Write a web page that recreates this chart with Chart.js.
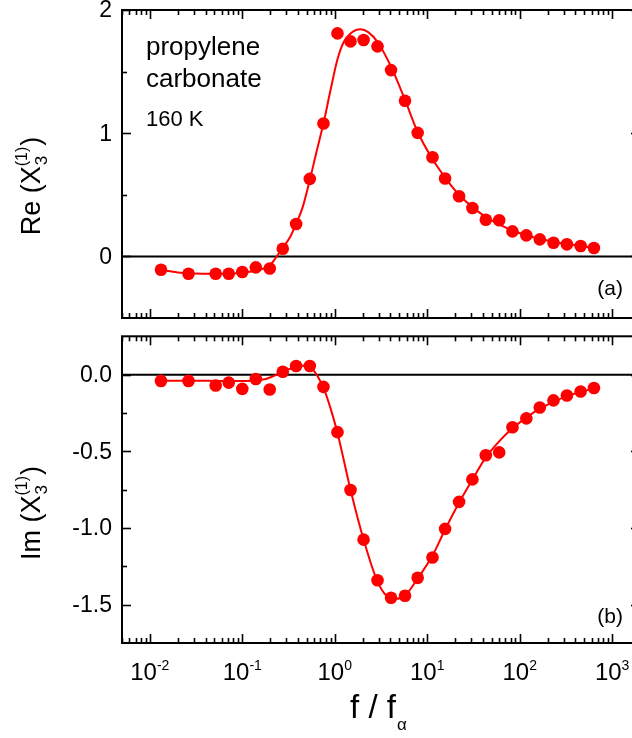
<!DOCTYPE html>
<html>
<head>
<meta charset="utf-8">
<script src="https://cdn.jsdelivr.net/npm/chart.js@4"></script>
<style>
html, body { margin: 0; padding: 0; background: #fff; overflow: hidden; }
#wrap { position: relative; width: 632px; height: 738px; overflow: hidden; }
canvas { position: absolute; left: 0; }
#topChart { top: 0; width: 650px; height: 330px; }
#bottomChart { top: 330px; width: 650px; height: 408px; }
</style>
</head>
<body>
<div id="wrap">
  <canvas id="topChart" width="650" height="330"></canvas>
  <canvas id="bottomChart" width="650" height="408"></canvas>
</div>
<script>
// measured points (f / f_alpha)
const freq = [0.0132, 0.0262, 0.0515, 0.0713, 0.100, 0.140, 0.198, 0.274, 0.382, 0.537, 0.755,
              1.07, 1.48, 2.05, 2.90, 4.06, 5.75, 7.88, 11.4, 15.6, 22.1, 30.8, 43.0, 60.0,
              83.5, 118, 165, 232, 324, 456, 635];
const reData = [-0.108, -0.141, -0.141, -0.141, -0.127, -0.089, -0.098, 0.062, 0.263, 0.629, 1.079,
                1.810, 1.745, 1.756, 1.705, 1.512, 1.263, 1.003, 0.805, 0.632, 0.488, 0.393, 0.298, 0.293,
                0.203, 0.171, 0.138, 0.111, 0.098, 0.084, 0.068];
const imData = [-0.041, -0.041, -0.071, -0.052, -0.093, -0.028, -0.097, 0.019, 0.056, 0.056, -0.080,
                -0.375, -0.752, -1.076, -1.341, -1.455, -1.442, -1.325, -1.192, -1.006, -0.830, -0.683, -0.526, -0.507,
                -0.343, -0.285, -0.214, -0.168, -0.136, -0.110, -0.087];

// fit curves
const reFitFreq = [0.0132, 0.02, 0.03, 0.05, 0.08, 0.12, 0.16, 0.2, 0.236, 0.274, 0.33, 0.38, 0.45, 0.537,
                   0.64, 0.755, 0.9, 1.07, 1.25, 1.48, 1.9, 2.3, 2.9, 4.06, 5.75, 7.88, 11.4, 15.6, 22.1,
                   30.8, 43, 60, 83.5, 118, 165, 232, 324, 456, 635];
const reFit = [-0.11, -0.13, -0.138, -0.14, -0.138, -0.125, -0.105, -0.07, 0.0, 0.07, 0.16, 0.26, 0.40, 0.62,
               0.86, 1.08, 1.35, 1.60, 1.74, 1.81, 1.843, 1.82, 1.74, 1.54, 1.27, 1.01, 0.79, 0.64, 0.50,
               0.40, 0.32, 0.26, 0.21, 0.172, 0.143, 0.119, 0.10, 0.085, 0.07];
const imFitFreq = [0.0132, 0.03, 0.06, 0.1, 0.14, 0.18, 0.22, 0.274, 0.33, 0.382, 0.46, 0.537, 0.62, 0.68,
                   0.755, 0.9, 1.07, 1.48, 2.05, 2.9, 3.6, 4.6, 5.75, 7.88, 11.4, 15.6, 22.1, 30.8, 43, 60,
                   83.5, 118, 165, 232, 324, 456, 635];
const imFit = [-0.04, -0.04, -0.041, -0.041, -0.038, -0.028, -0.008, 0.018, 0.038, 0.05, 0.058, 0.05, 0.01, -0.03,
               -0.085, -0.22, -0.38, -0.75, -1.075, -1.35, -1.44, -1.462, -1.44, -1.33, -1.18, -1.01, -0.835, -0.685, -0.54, -0.435,
               -0.35, -0.28, -0.222, -0.178, -0.14, -0.113, -0.09];

// axis ticks
const xDecades = [-2, -1, 0, 1, 2, 3];
const reMajor = [0, 1, 2];
const reMinor = [0.5, 1.5];
const reLabels = ['0', '1', '2'];
const imMajor = [0, -0.5, -1.0, -1.5];
const imMinor = [-0.25, -0.75, -1.25];
const imLabels = ['0.0', '-0.5', '-1.0', '-1.5'];

const FONT = '"Liberation Sans", Arial, Helvetica, sans-serif';
const RED = '#ff0000';

function pts(xs, ys) {
    return xs.map((x, i) => ({ x: x, y: ys[i] }));
}

function seg(ctx, x1, y1, x2, y2) {
    ctx.beginPath();
    ctx.moveTo(x1, y1);
    ctx.lineTo(x2, y2);
    ctx.stroke();
}

// "Re (X_3^(1))" along the current baseline
function drawSymbol(ctx, prefix, x0) {
    ctx.font = '27px ' + FONT;
    ctx.fillText(prefix + ' (X', x0, 0);
    let x = x0 + ctx.measureText(prefix + ' (X').width;
    ctx.font = '17px ' + FONT;
    ctx.fillText('3', x + 1, 7);
    ctx.font = '16px ' + FONT;
    ctx.fillText('(1)', x, -13);
    const w = Math.max(ctx.measureText('(1)').width, 10);
    ctx.font = '27px ' + FONT;
    ctx.fillText(')', x + w + 1, 0);
}

function symbolWidth(ctx, prefix) {
    ctx.font = '27px ' + FONT;
    let w = ctx.measureText(prefix + ' (X').width + ctx.measureText(')').width + 1;
    ctx.font = '16px ' + FONT;
    w += ctx.measureText('(1)').width;
    return w;
}

// frame, inward ticks on all four sides, zero line and texts
const framePlugin = {
    id: 'frame',
    beforeDatasetsDraw(chart) {
        const ctx = chart.ctx, a = chart.chartArea, ys = chart.scales.y;
        ctx.save();
        ctx.strokeStyle = '#000';
        ctx.lineWidth = 2;
        const y0 = ys.getPixelForValue(0);
        seg(ctx, a.left, y0, a.right, y0);
        ctx.restore();
    },
    afterDraw(chart, args, o) {
        const ctx = chart.ctx, a = chart.chartArea;
        const xs = chart.scales.x, ys = chart.scales.y;
        ctx.save();
        ctx.strokeStyle = '#000';
        ctx.lineWidth = 2;
        ctx.strokeRect(a.left, a.top, a.right - a.left, a.bottom - a.top);
        ctx.lineWidth = 1.6;
        for (let e = -3; e <= 3; e++) {
            for (let k = 1; k <= 9; k++) {
                const v = k * Math.pow(10, e);
                if (v < xs.min || v > xs.max) continue;
                const px = Math.round(xs.getPixelForValue(v)) + 0.5;
                const len = k === 1 ? 9 : 5;
                seg(ctx, px, a.bottom, px, a.bottom - len);
                seg(ctx, px, a.top, px, a.top + len);
            }
        }
        o.major.forEach(v => {
            const py = Math.round(ys.getPixelForValue(v)) + 0.5;
            seg(ctx, a.left, py, a.left + 9, py);
            seg(ctx, a.right, py, a.right - 9, py);
        });
        o.minor.forEach(v => {
            const py = Math.round(ys.getPixelForValue(v)) + 0.5;
            seg(ctx, a.left, py, a.left + 5, py);
            seg(ctx, a.right, py, a.right - 5, py);
        });

        ctx.fillStyle = '#000';
        ctx.font = '23px ' + FONT;
        ctx.textAlign = 'right';
        ctx.textBaseline = 'middle';
        o.major.forEach((v, i) => {
            ctx.fillText(o.labels[i], a.left - 10, ys.getPixelForValue(v) + 1);
        });

        // y title, rotated
        ctx.textAlign = 'left';
        ctx.textBaseline = 'alphabetic';
        ctx.save();
        const w = symbolWidth(ctx, o.title);
        ctx.translate(40, o.titleY + w / 2);
        ctx.rotate(-Math.PI / 2);
        drawSymbol(ctx, o.title, 0);
        ctx.restore();

        // panel letter
        ctx.font = '21px ' + FONT;
        ctx.textAlign = 'right';
        ctx.fillText(o.letter, 623, o.letterY);

        if (o.notes) {
            ctx.textAlign = 'left';
            ctx.font = '26px ' + FONT;
            ctx.fillText('propylene', 146, 55);
            ctx.fillText('carbonate', 146, 87);
            ctx.font = '22px ' + FONT;
            ctx.fillText('160 K', 146, 126);
        }

        if (o.xLabels) {
            const base = a.bottom + 37;
            xDecades.forEach(e => {
                const px = xs.getPixelForValue(Math.pow(10, e));
                ctx.font = '24px ' + FONT;
                const w1 = ctx.measureText('10').width;
                ctx.font = '14px ' + FONT;
                const w2 = ctx.measureText(String(e)).width;
                const x0 = px - (w1 + w2) / 2;
                ctx.textAlign = 'left';
                ctx.font = '24px ' + FONT;
                ctx.fillText('10', x0, base);
                ctx.font = '14px ' + FONT;
                ctx.fillText(String(e), x0 + w1, base - 10);
            });
            ctx.font = '33px ' + FONT;
            const t = 'f / f';
            const tw = ctx.measureText(t).width;
            const tx = 373 - tw / 2;
            ctx.fillText(t, tx, a.bottom + 75);
            ctx.font = '17px ' + FONT;
            ctx.fillText('\u03b1', tx + tw + 1, a.bottom + 87);
        }
        ctx.restore();
    }
};

function makeChart(id, fx, fy, px, py, yMin, yMax, pad, frameOpts) {
    return new Chart(document.getElementById(id).getContext('2d'), {
        type: 'scatter',
        data: {
            datasets: [
                {
                    data: pts(px, py),
                    showLine: false,
                    pointRadius: 6.3,
                    pointBackgroundColor: RED,
                    pointBorderWidth: 0,
                    order: 0
                },
                {
                    data: pts(fx, fy),
                    showLine: true,
                    borderColor: RED,
                    borderWidth: 2,
                    pointRadius: 0,
                    cubicInterpolationMode: 'monotone',
                    order: 1
                }
            ]
        },
        options: {
            responsive: false,
            animation: false,
            layout: { padding: pad },
            plugins: { legend: { display: false }, tooltip: { enabled: false }, frame: frameOpts },
            scales: {
                x: { type: 'logarithmic', min: 0.005, max: 2000, display: false },
                y: { type: 'linear', min: yMin, max: yMax, display: false }
            }
        },
        plugins: [framePlugin]
    });
}

makeChart('topChart', reFitFreq, reFit, freq, reData, -0.5, 2,
    { left: 122, right: 10, top: 10, bottom: 12 },
    { major: reMajor, minor: reMinor, labels: reLabels, title: 'Re', titleY: 186,
      letter: '(a)', letterY: 295, notes: true, xLabels: false });

makeChart('bottomChart', imFitFreq, imFit, freq, imData, -1.75, 0.25,
    { left: 122, right: 10, top: 6, bottom: 95 },
    { major: imMajor, minor: imMinor, labels: imLabels, title: 'Im', titleY: 183,
      letter: '(b)', letterY: 293, notes: false, xLabels: true });
</script>
</body>
</html>
